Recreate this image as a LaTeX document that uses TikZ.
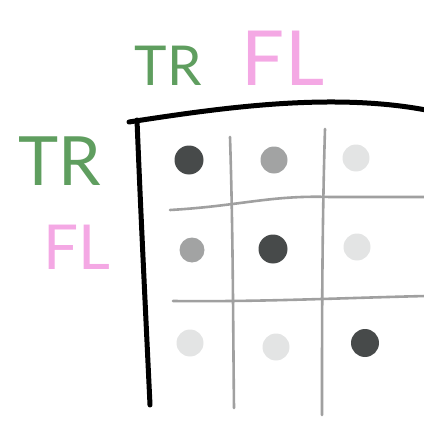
\documentclass[tikz,border=0pt]{standalone}
\usepackage{fontspec}
\setmainfont{Lato}
\definecolor{trgreen}{HTML}{5F9E5F}
\definecolor{flpink}{HTML}{F4A8E4}
\definecolor{dotdark}{HTML}{474A4A}
\definecolor{dotmid}{HTML}{A2A3A3}
\definecolor{dotlight}{HTML}{E3E4E4}
\definecolor{gridgrey}{HTML}{A0A0A0}
\tikzset{
  dot/.style={circle,inner sep=0pt,minimum size=29pt},
  lettre/.style={inner sep=0pt},
  axe/.style={line width=5pt,line cap=round},
  grille/.style={gridgrey,line width=2.6pt,line cap=round}
}
\begin{document}
\begin{tikzpicture}[x=1pt,y=-1pt]
\useasboundingbox (0,0) rectangle (424,423);
\pgfmathsetmacro{\xa}{189}
\pgfmathsetmacro{\xb}{274}
\pgfmathsetmacro{\xc}{359}
\pgfmathsetmacro{\ya}{160}
\pgfmathsetmacro{\yb}{249}
\pgfmathsetmacro{\yc}{344}
  \node[lettre,text=trgreen,font=\fontsize{55}{60}\selectfont] (toptr) at (168,66) {TR};
  \node[lettre,text=flpink,font=\fontsize{76}{80}\selectfont] (topfl) at (283,58) {FL};
  \node[lettre,text=trgreen,font=\fontsize{68}{72}\selectfont] (lefttr) at (60,161) {TR};
  \node[lettre,text=flpink,font=\fontsize{62}{66}\selectfont] (leftfl) at (77,247) {FL};
  \draw[axe] (129,122) .. controls (220,108) and (330,92) .. (426,110);
  \draw[axe] (137,120) .. controls (141,220) and (146,320) .. (150,405);
  \draw[grille] (230,137) .. controls (233,230) and (233,320) .. (234,408);
  \draw[grille] (325,129) .. controls (322,230) and (322,330) .. (322,415);
  \draw[grille] (170,210) .. controls (240,206) and (270,195) .. (330,197) -- (426,197);
  \draw[grille] (173,301) .. controls (260,302) and (340,298) .. (426,296);
  \node[dot,fill=dotdark] (d11) at (\xa,\ya) {};
  \node[dot,fill=dotmid,minimum size=27pt] (d12) at (\xb,\ya) {};
  \node[dot,fill=dotlight,minimum size=27pt] (d13) at (\xc-3,\ya-2) {};
  \node[dot,fill=dotmid,minimum size=25pt] (d21) at (\xa+3,\yb+1) {};
  \node[dot,fill=dotdark] (d22) at (\xb-1,\yb) {};
  \node[dot,fill=dotlight,minimum size=27pt] (d23) at (\xc-2,\yb-2) {};
  \node[dot,fill=dotlight,minimum size=27pt] (d31) at (\xa+1,\yc-1) {};
  \node[dot,fill=dotlight,minimum size=27pt] (d32) at (\xb+2,\yc+3) {};
  \node[dot,fill=dotdark,minimum size=28pt] (d33) at (\xc+6,\yc-1) {};
\end{tikzpicture}
\end{document}
